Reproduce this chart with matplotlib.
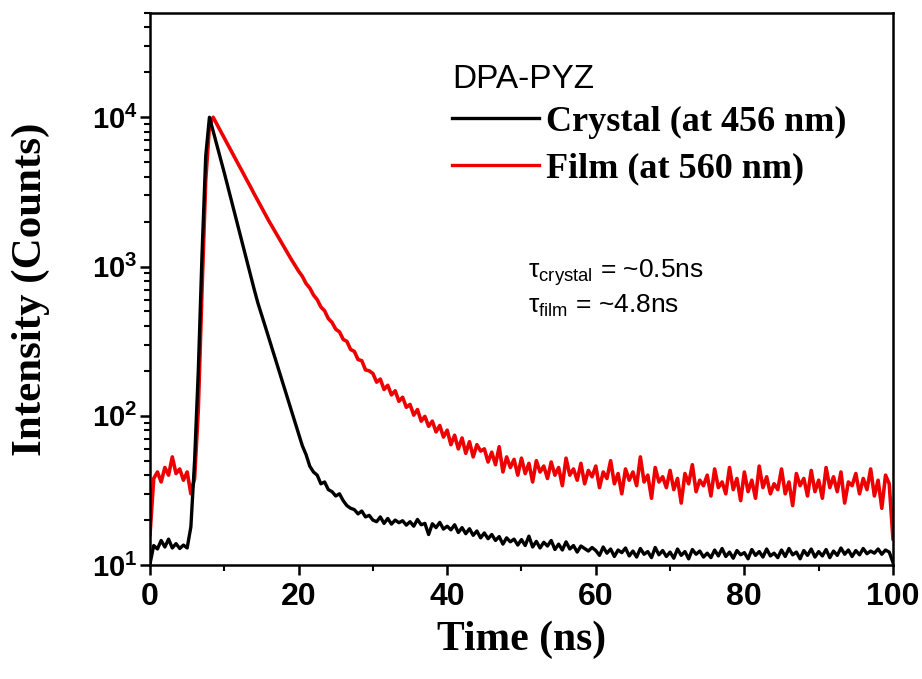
import matplotlib
matplotlib.use("Agg")
import matplotlib.pyplot as plt
import numpy as np
from matplotlib.ticker import FixedLocator, FixedFormatter, LogLocator, MultipleLocator, NullFormatter
from matplotlib.lines import Line2D

plt.rcParams['mathtext.fontset'] = 'custom'
plt.rcParams['mathtext.rm'] = 'Liberation Sans'
plt.rcParams['mathtext.bf'] = 'Liberation Sans:bold'
plt.rcParams['font.family'] = 'Liberation Sans'

# time axis, 0.5 ns per channel
time_ns = np.arange(0, 100.5, 0.5)

# crystal decay (black)
crystal = [
    10.2, 13.5, 12.8, 14.6, 13.2, 14.9, 13.0, 13.9, 12.9, 13.6,
    13.0, 18, 50, 200, 1200, 5500, 10000, 8070, 6520, 5260,
    4240, 3390, 2710, 2170, 1730, 1390, 1110, 887, 710, 574,
    479, 398, 331, 275, 229, 190, 158, 132, 110, 91,
    76, 63, 55, 46, 42, 40, 35, 36, 32, 31,
    29, 30, 27, 25, 24, 23.5, 22, 23, 21, 21.5,
    20, 19.5, 21, 19, 20.5, 18.8, 20, 19.2, 19.8, 18.5,
    19.5, 18.2, 20.2, 18.6, 19, 16.0, 18.9, 17.8, 19.3, 17.4,
    18.2, 17.2, 18.6, 16.5, 17.8, 16.2, 17.5, 15.8, 16.9, 15.2,
    16.4, 15.0, 16.0, 14.6, 15.5, 13.8, 15.2, 14.3, 14.9, 13.6,
    14.8, 13.5, 15.6, 13.2, 14.4, 13.0, 14.2, 13.4, 14.6, 12.7,
    13.8, 12.6, 14.3, 12.8, 13.5, 12.2, 13.4, 12.9, 12.4, 13.1,
    12.5, 11.6, 13.2, 12.0, 12.8, 11.4, 12.6, 12.1, 13.0, 11.5,
    12.4, 11.3, 12.9, 11.8, 12.3, 11.2, 13.1, 11.7, 12.5, 11.4,
    12.2, 11.1, 12.8, 11.6, 12.3, 11.0, 12.7, 11.8, 12.4, 11.3,
    12.0, 11.2, 12.6, 11.5, 12.9, 11.4, 12.2, 11.1, 12.5, 11.7,
    12.1, 11.0, 12.7, 11.6, 12.3, 11.3, 12.8, 11.5, 12.0, 11.2,
    12.6, 11.4, 12.9, 11.7, 12.2, 11.0, 12.5, 11.6, 12.8, 11.3,
    12.3, 11.5, 12.7, 11.2, 12.4, 11.6, 13.0, 11.8, 12.6, 11.4,
    12.5, 11.7, 12.9, 11.9, 12.4, 12.0, 12.8, 11.8, 12.6, 12.2,
    10.4,
]

# film decay (red)
film = [
    16, 38, 42, 36, 45, 40, 53, 41, 44, 37,
    42, 30, 38, 110, 700, 3800, 8800, 10000, 8990, 8070,
    7260, 6520, 5860, 5260, 4730, 4260, 3820, 3440, 3080, 2770,
    2490, 2240, 2020, 1830, 1660, 1500, 1360, 1230, 1120, 1020,
    931, 860, 770, 718, 645, 600, 536, 505, 448, 422,
    380, 365, 325, 315, 278, 270, 238, 234, 203, 200,
    192, 168, 176, 150, 160, 138, 147, 125, 133, 114,
    119, 101, 110, 92, 99, 85, 92, 78, 86, 72,
    80, 64, 74, 60, 71, 56, 67, 53, 64, 58,
    60, 49, 57, 47, 62, 42, 53, 45, 51, 40,
    52, 41, 48, 36, 50, 42, 46, 38, 49, 40,
    45, 34, 52, 40, 44, 37, 48, 35, 43, 39,
    46, 33, 42, 38, 50, 35, 41, 30, 44, 37,
    42, 34, 53, 36, 40, 28, 45, 36, 39, 33,
    43, 32, 38, 26, 41, 35, 47, 31, 37, 34,
    40, 29, 44, 33, 36, 30, 45, 32, 38, 27,
    42, 31, 37, 28, 46, 33, 39, 30, 35, 32,
    44, 30, 36, 25, 41, 34, 38, 29, 43, 31,
    37, 28, 45, 33, 39, 31, 42, 26, 36, 34,
    41, 30, 38, 32, 44, 29, 37, 24, 40, 35,
    15,
]

labels = ['Crystal (at 456 nm)', 'Film (at 560 nm)']
colors = ['black', '#ee0000']
xticks = [0, 20, 40, 60, 80, 100]
yticks = [10, 100, 1000, 10000]
ytick_labels = [r'$\mathbf{10^{1}}$', r'$\mathbf{10^{2}}$', r'$\mathbf{10^{3}}$', r'$\mathbf{10^{4}}$']

fig = plt.figure(figsize=(9.22, 6.79), dpi=100)
ax = fig.add_axes([0.1627, 0.1679, 0.8058, 0.813])

ax.plot(time_ns, film, color=colors[1], linewidth=2.6)
ax.plot(time_ns, crystal, color=colors[0], linewidth=2.4)

ax.set_yscale('log')
ax.set_xlim(0, 100)
ax.set_ylim(10, 5e4)

ax.xaxis.set_major_locator(FixedLocator(xticks))
ax.xaxis.set_minor_locator(MultipleLocator(10))
ax.yaxis.set_major_locator(FixedLocator(yticks))
ax.yaxis.set_major_formatter(FixedFormatter(ytick_labels))
ax.yaxis.set_minor_locator(LogLocator(base=10, subs=np.arange(2, 10)))
ax.yaxis.set_minor_formatter(NullFormatter())

for sp in ax.spines.values():
    sp.set_linewidth(1.8)
ax.tick_params(which='major', direction='out', length=7, width=1.8, top=False, right=False)
ax.tick_params(which='minor', direction='out', length=4, width=1.5, top=False, right=False)
ax.tick_params(axis='x', which='major', labelsize=23, pad=5)
ax.tick_params(axis='y', which='major', labelsize=21, pad=2)
for lab in ax.get_xticklabels():
    lab.set_fontweight('bold')

ax.set_xlabel('Time (ns)', fontsize=30, fontweight='bold', family='Liberation Serif')
ax.set_ylabel('Intensity (Counts)', fontsize=31, fontweight='bold', family='Liberation Serif')
ax.xaxis.set_label_coords(0.5, -0.1)
ax.yaxis.set_label_coords(-0.135, 0.5)

handles = [Line2D([], [], color=c, linewidth=2.4) for c in colors]
leg = ax.legend(handles, labels, title='DPA-PYZ', loc='upper left',
                bbox_to_anchor=(0.471, 0.933), bbox_transform=fig.transFigure,
                frameon=False, borderpad=0, handlelength=2.4, handletextpad=0.2,
                labelspacing=0.36, alignment='left',
                prop={'family': 'Liberation Serif', 'weight': 'bold', 'size': 26},
                title_fontproperties={'family': 'Liberation Sans', 'size': 24})
leg._legend_box.sep = 8

ax.text(0.509, 0.52, r'$\mathrm{\tau_{crystal}}$ = ~0.5ns', transform=ax.transAxes,
        fontsize=19, va='baseline')
ax.text(0.509, 0.457, r'$\mathrm{\tau_{film}}$ = ~4.8ns', transform=ax.transAxes,
        fontsize=19, va='baseline')

fig.savefig('out.png', dpi=100)
